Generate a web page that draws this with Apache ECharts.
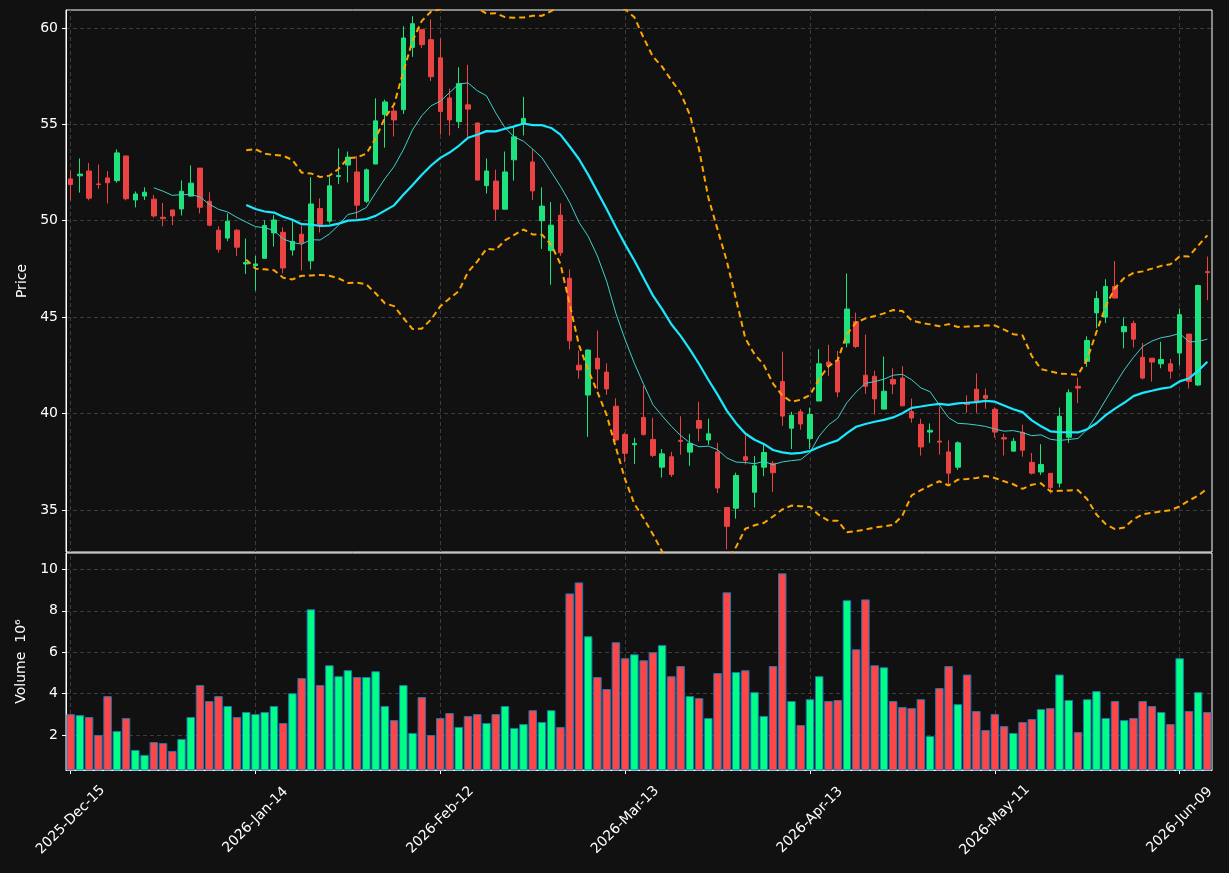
<!DOCTYPE html>
<html><head><meta charset="utf-8">
<script src="https://cdn.jsdelivr.net/npm/echarts@6/dist/echarts.min.js"></script>
<style>html,body{margin:0;padding:0;background:#111111;}#c{width:1229px;height:873px;}</style>
</head><body><div id="c"></div>
<script>
const dates = ['2025-Dec-15','2025-Dec-16','2025-Dec-17','2025-Dec-18','2025-Dec-19','2025-Dec-22','2025-Dec-23','2025-Dec-24','2025-Dec-26','2025-Dec-29',
'2025-Dec-30','2025-Dec-31','2026-Jan-02','2026-Jan-05','2026-Jan-06','2026-Jan-07','2026-Jan-08','2026-Jan-09','2026-Jan-12','2026-Jan-13',
'2026-Jan-14','2026-Jan-15','2026-Jan-16','2026-Jan-20','2026-Jan-21','2026-Jan-22','2026-Jan-23','2026-Jan-26','2026-Jan-27','2026-Jan-28',
'2026-Jan-29','2026-Jan-30','2026-Feb-02','2026-Feb-03','2026-Feb-04','2026-Feb-05','2026-Feb-06','2026-Feb-09','2026-Feb-10','2026-Feb-11',
'2026-Feb-12','2026-Feb-13','2026-Feb-17','2026-Feb-18','2026-Feb-19','2026-Feb-20','2026-Feb-23','2026-Feb-24','2026-Feb-25','2026-Feb-26',
'2026-Feb-27','2026-Mar-02','2026-Mar-03','2026-Mar-04','2026-Mar-05','2026-Mar-06','2026-Mar-09','2026-Mar-10','2026-Mar-11','2026-Mar-12',
'2026-Mar-13','2026-Mar-16','2026-Mar-17','2026-Mar-18','2026-Mar-19','2026-Mar-20','2026-Mar-23','2026-Mar-24','2026-Mar-25','2026-Mar-26',
'2026-Mar-27','2026-Mar-30','2026-Mar-31','2026-Apr-01','2026-Apr-02','2026-Apr-06','2026-Apr-07','2026-Apr-08','2026-Apr-09','2026-Apr-10',
'2026-Apr-13','2026-Apr-14','2026-Apr-15','2026-Apr-16','2026-Apr-17','2026-Apr-20','2026-Apr-21','2026-Apr-22','2026-Apr-23','2026-Apr-24',
'2026-Apr-27','2026-Apr-28','2026-Apr-29','2026-Apr-30','2026-May-01','2026-May-04','2026-May-05','2026-May-06','2026-May-07','2026-May-08',
'2026-May-11','2026-May-12','2026-May-13','2026-May-14','2026-May-15','2026-May-18','2026-May-19','2026-May-20','2026-May-21','2026-May-22',
'2026-May-26','2026-May-27','2026-May-28','2026-May-29','2026-Jun-01','2026-Jun-02','2026-Jun-03','2026-Jun-04','2026-Jun-05','2026-Jun-08',
'2026-Jun-09','2026-Jun-10','2026-Jun-11','2026-Jun-12'];

const opens = [52.17,52.33,52.58,51.91,52.22,52.08,53.36,51.08,51.28,51.12,
50.18,50.56,50.61,51.28,52.73,51.01,49.51,49.10,49.51,47.76,
47.67,48.05,49.37,49.40,48.48,49.30,47.92,50.63,49.98,52.29,
52.89,52.53,51.01,52.94,55.51,55.69,55.76,58.99,59.91,59.39,
58.45,56.37,55.14,56.01,55.07,51.82,52.06,50.60,53.16,55.07,
53.05,50.00,48.45,50.29,47.02,42.51,40.96,42.87,42.15,40.38,
38.92,38.38,39.80,38.66,37.22,37.76,38.61,38.00,39.64,38.63,
38.01,35.13,35.09,37.76,35.92,37.22,37.42,41.66,39.24,40.09,
38.70,40.65,42.67,42.76,43.66,44.77,41.99,41.93,40.23,41.77,
41.84,40.11,39.44,39.04,38.57,38.01,37.22,40.54,41.26,40.94,
40.22,38.75,38.05,39.03,37.47,36.97,36.90,36.39,38.77,41.41,
42.71,45.22,45.00,46.59,44.24,44.68,42.92,42.87,42.58,42.58,
43.14,44.12,41.48,47.36];

const closes = [51.88,52.42,51.17,51.88,51.97,53.52,51.14,51.39,51.48,50.25,
50.11,50.25,51.53,51.95,50.70,49.77,48.52,49.98,48.63,47.83,
47.76,49.75,50.04,47.55,48.93,48.84,50.87,49.80,51.81,52.35,
53.30,50.81,52.64,55.18,56.16,55.23,59.48,60.22,59.13,57.47,
55.67,55.23,57.11,55.79,52.11,52.58,50.60,52.53,54.35,55.31,
51.55,50.76,49.77,48.34,43.77,42.26,43.29,42.31,41.28,38.63,
37.94,38.45,38.92,37.83,37.91,36.84,38.56,38.45,39.24,38.95,
36.14,34.15,36.79,37.58,37.29,37.98,36.93,39.87,39.91,39.46,
39.95,42.58,42.49,41.12,45.42,43.48,41.41,40.76,41.16,41.53,
40.40,39.77,38.27,39.13,38.52,36.91,38.48,40.47,40.58,40.79,
39.04,38.68,38.56,38.10,36.91,37.36,36.17,39.86,41.08,41.32,
43.79,45.97,46.59,45.99,44.51,43.86,41.84,42.67,42.80,42.20,
45.13,41.66,46.64,47.31];

const lows = [51.05,51.46,51.06,51.66,50.90,51.97,51.06,50.69,51.08,50.16,
49.71,49.77,50.27,51.25,50.38,49.71,48.34,48.94,48.18,47.24,
46.37,48.05,48.66,47.27,48.19,47.42,47.47,49.39,49.86,51.90,
51.99,50.11,50.92,52.94,53.79,54.37,55.54,58.50,58.95,57.24,
54.48,54.42,54.80,54.35,52.08,51.41,50.02,50.60,52.08,54.42,
51.08,48.54,46.68,48.18,43.32,41.81,38.79,41.26,40.97,38.56,
37.47,37.38,38.85,37.74,36.68,36.71,37.87,37.29,38.56,38.38,
35.88,32.96,34.55,37.36,35.13,36.75,35.94,39.37,38.16,39.17,
38.16,40.65,41.95,40.85,43.43,43.39,41.03,39.95,40.23,41.01,
40.40,39.53,37.82,38.48,37.87,36.35,37.08,40.04,40.04,40.25,
38.75,37.82,38.05,37.76,36.84,36.82,35.85,36.17,38.48,40.54,
42.42,44.42,44.69,45.99,43.38,43.43,41.77,41.66,42.35,41.81,
42.49,41.30,41.44,45.88];

const highs = [52.60,53.23,53.00,52.92,52.58,53.70,53.36,51.52,51.73,51.34,
50.92,50.56,52.09,52.87,52.73,51.48,49.71,50.38,49.57,49.08,
48.18,50.02,50.29,49.66,49.98,49.75,52.26,51.16,52.26,53.75,
53.59,53.36,52.71,56.35,56.28,55.88,60.09,60.61,59.95,60.45,
59.46,56.85,57.96,58.09,55.07,53.23,52.65,53.59,54.91,56.43,
53.72,51.73,50.97,50.90,47.47,43.27,43.34,44.31,42.60,40.79,
39.01,38.74,41.44,39.78,38.16,38.01,39.86,38.95,40.61,39.73,
38.48,35.13,36.93,38.88,37.80,38.38,37.54,43.21,40.09,40.23,
40.31,43.34,43.57,43.25,47.26,45.23,44.10,42.22,42.96,42.35,
42.45,40.78,39.73,39.49,40.34,38.61,38.56,40.94,42.08,41.30,
40.32,38.95,38.74,39.42,37.96,38.41,36.90,40.31,41.26,41.86,
44.01,46.35,46.97,47.91,44.98,44.82,43.66,42.87,43.72,42.83,
45.45,44.12,46.68,48.14];

const volumes = [3.01,2.96,2.87,2.00,3.88,2.19,2.82,1.28,1.04,1.66,
1.61,1.23,1.81,2.87,4.41,3.64,3.88,3.40,2.87,3.11,
3.01,3.11,3.40,2.58,4.02,4.75,8.07,4.41,5.37,4.84,
5.13,4.80,4.80,5.08,3.40,2.72,4.41,2.10,3.83,2.00,
2.82,3.06,2.39,2.92,3.01,2.58,3.01,3.40,2.34,2.53,
3.20,2.63,3.20,2.39,8.84,9.37,6.77,4.80,4.22,6.48,
5.71,5.90,5.61,6.00,6.34,4.84,5.33,3.88,3.78,2.82,
4.99,8.89,5.04,5.13,4.07,2.92,5.33,9.81,3.64,2.48,
3.73,4.84,3.64,3.69,8.51,6.14,8.55,5.37,5.27,3.64,
3.35,3.30,3.73,1.95,4.27,5.33,3.49,4.92,3.16,2.24,
3.01,2.43,2.10,2.63,2.77,3.25,3.30,4.92,3.69,2.14,
3.73,4.12,2.82,3.64,2.72,2.82,3.64,3.40,3.11,2.53,
5.71,3.16,4.07,3.11];

const priceTicks = [35, 40, 45, 50, 55, 60];
const volumeTicks = [2, 4, 6, 8, 10];
const xTickStep = 20;

const UP = '#1ee27e', DOWN = '#ea4343';
const VUP = '#00ff85', VDOWN = '#ff4646';
const GRID = '#3d3d3d';

function sma(arr, n) {
  return arr.map((v, i) => {
    if (i < n - 1) return '-';
    let s = 0; for (let j = i - n + 1; j <= i; j++) s += arr[j];
    return s / n;
  });
}
function band(arr, n, k) {
  return arr.map((v, i) => {
    if (i < n - 1) return '-';
    let s = 0; for (let j = i - n + 1; j <= i; j++) s += arr[j];
    const m = s / n;
    let q = 0; for (let j = i - n + 1; j <= i; j++) q += (arr[j] - m) * (arr[j] - m);
    const sd = Math.sqrt(q / (n - 1));
    return m + k * sd;
  });
}
const ma10 = sma(closes, 10);
const ma20 = sma(closes, 20);
const bbUp = band(closes, 20, 2);
const bbLo = band(closes, 20, -2);

const candleData = dates.map((d, i) => [opens[i], closes[i], lows[i], highs[i]]);
const volData = volumes.map((v, i) => ({ value: v, itemStyle: { color: closes[i] >= opens[i] ? VUP : VDOWN } }));
const vLines = dates.filter((d, i) => i % xTickStep === 0).map(d => ({ xAxis: d }));
const showIdx = (i) => i % xTickStep === 0;

const chart = echarts.init(document.getElementById('c'));
const txt = { color: '#ffffff', fontFamily: 'DejaVu Sans', fontSize: 14 };
const gridLineStyle = { color: GRID, type: [4, 3], width: 1 };

chart.setOption({
  animation: false,
  backgroundColor: '#111111',
  grid: [
    { left: 66, top: 10, width: 1146, height: 542, show: true, borderColor: '#ffffff', borderWidth: 1, backgroundColor: '#111111' },
    { left: 66, top: 553, width: 1146, height: 217, show: true, borderColor: '#ffffff', borderWidth: 1, backgroundColor: '#111111' }
  ],
  xAxis: [
    { type: 'category', gridIndex: 0, data: dates, boundaryGap: true,
      axisLine: { show: false }, axisTick: { show: false }, axisLabel: { show: false }, splitLine: { show: false } },
    { type: 'category', gridIndex: 1, data: dates, boundaryGap: true,
      axisLine: { show: true, lineStyle: { color: '#ffffff' } },
      axisTick: { show: true, alignWithLabel: true, interval: (i) => showIdx(i), length: 4, lineStyle: { color: '#ffffff' } },
      axisLabel: Object.assign({ interval: (i) => showIdx(i), rotate: 45, margin: 50, align: 'center', verticalAlign: 'middle' }, txt),
      splitLine: { show: false } }
  ],
  yAxis: [
    { type: 'value', gridIndex: 0, min: 32.82, max: 60.93, splitNumber: 5, position: 'left',
      name: 'Price', nameLocation: 'middle', nameGap: 37, nameRotate: 90, nameTextStyle: txt,
      axisLine: { show: true, lineStyle: { color: '#ffffff' } },
      axisTick: { show: true, length: 4, customValues: priceTicks, lineStyle: { color: '#ffffff' } },
      axisLabel: Object.assign({ customValues: priceTicks, margin: 8 }, txt),
      splitLine: { show: true, lineStyle: gridLineStyle } },
    { type: 'value', gridIndex: 1, min: 0.31, max: 10.79, splitNumber: 5, position: 'left',
      name: 'Volume  10\u2076', nameLocation: 'middle', nameGap: 38, nameRotate: 90, nameTextStyle: txt,
      axisLine: { show: true, lineStyle: { color: '#ffffff' } },
      axisTick: { show: true, length: 4, customValues: volumeTicks, lineStyle: { color: '#ffffff' } },
      axisLabel: Object.assign({ customValues: volumeTicks, margin: 8 }, txt),
      splitLine: { show: true, lineStyle: gridLineStyle } }
  ],
  series: [
    { type: 'line', xAxisIndex: 0, yAxisIndex: 0, data: dates.map(() => '-'), silent: true, z: 1,
      markLine: { silent: true, z: 1, symbol: ['none', 'none'], label: { show: false }, lineStyle: gridLineStyle, data: vLines, animation: false } },
    { type: 'line', xAxisIndex: 1, yAxisIndex: 1, data: dates.map(() => '-'), silent: true, z: 1,
      markLine: { silent: true, z: 1, symbol: ['none', 'none'], label: { show: false }, lineStyle: gridLineStyle, data: vLines, animation: false } },
    { name: 'OHLC', type: 'candlestick', xAxisIndex: 0, yAxisIndex: 0, data: candleData, barWidth: 5, z: 3,
      itemStyle: { color: UP, color0: DOWN, borderColor: UP, borderColor0: DOWN, borderWidth: 1 } },
    { name: 'MA10', type: 'line', xAxisIndex: 0, yAxisIndex: 0, data: ma10, showSymbol: false, z: 4,
      lineStyle: { color: '#3fcfca', width: 1 } },
    { name: 'MA20', type: 'line', xAxisIndex: 0, yAxisIndex: 0, data: ma20, showSymbol: false, z: 4,
      lineStyle: { color: '#19e8ff', width: 2.2 } },
    { name: 'BBU', type: 'line', xAxisIndex: 0, yAxisIndex: 0, data: bbUp, showSymbol: false, z: 4, clip: true,
      lineStyle: { color: '#ffa500', width: 2, type: [6, 4] } },
    { name: 'BBL', type: 'line', xAxisIndex: 0, yAxisIndex: 0, data: bbLo, showSymbol: false, z: 4, clip: true,
      lineStyle: { color: '#ffa500', width: 2, type: [6, 4] } },
    { name: 'Volume', type: 'bar', xAxisIndex: 1, yAxisIndex: 1, data: volData, barWidth: '92%', z: 3,
      itemStyle: { borderColor: '#1f77b4', borderWidth: 1 } }
  ]
});
</script>
</body></html>
